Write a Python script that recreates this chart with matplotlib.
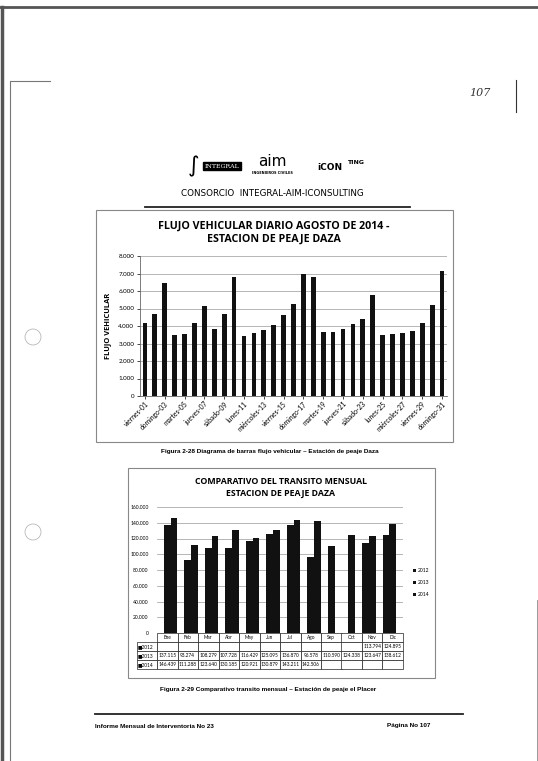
import numpy as np
import matplotlib.pyplot as plt
from matplotlib.ticker import FuncFormatter, MultipleLocator

# daily traffic, August 2014 - Daza toll
days = ["viernes-01", "sábado-02", "domingo-03", "lunes-04", "martes-05", "miércoles-06",
        "jueves-07", "viernes-08", "sábado-09", "domingo-10", "lunes-11", "martes-12",
        "miércoles-13", "jueves-14", "viernes-15", "sábado-16", "domingo-17", "lunes-18",
        "martes-19", "miércoles-20", "jueves-21", "viernes-22", "sábado-23", "domingo-24",
        "lunes-25", "martes-26", "miércoles-27", "jueves-28", "viernes-29", "sábado-30",
        "domingo-31"]
daily = [4150, 4700, 6480, 3500, 3520, 4150, 5150, 3820, 4700, 6780, 3450, 3620,
         3750, 4080, 4620, 5260, 6950, 6800, 3680, 3680, 3840, 4100, 4400, 5750,
         3480, 3520, 3600, 3720, 4180, 5200, 7150]

# monthly traffic comparison
months = ["Ene", "Feb", "Mar", "Abr", "May", "Jun", "Jul", "Ago", "Sep", "Oct", "Nov", "Dic"]
years = ["2012", "2013", "2014"]
t2012 = [None] * 10 + [113794, 124895]
t2013 = [137115, 93274, 108279, 107728, 116429, 125095, 136870, 96578, 110590, 124338, 123647, 138612]
t2014 = [146439, 111288, 123640, 130185, 120921, 130879, 143211, 142506, None, None, None, None]

W, H = 538, 761
fig = plt.figure(figsize=(W / 100, H / 100), dpi=100)
fig.patch.set_facecolor("white")
FAM = ["Lato", "DejaVu Sans"]
BOLD = ["Open Sans", "DejaVu Sans"]


def px_axes(x0, y0, x1, y1):
    return fig.add_axes([x0 / W, 1 - y1 / H, (x1 - x0) / W, (y1 - y0) / H])


def miles(v, pos=None):
    return f"{int(v):,}".replace(",", ".")


# page (scan) decorations
page = fig.add_axes([0, 0, 1, 1], zorder=-5)
page.set_xlim(0, W)
page.set_ylim(H, 0)
page.axis("off")
page.plot([0, W], [7, 7], color="#555555", lw=2)
page.plot([1.5, 1.5], [7, H], color="#555555", lw=2.5)
page.plot([10, 10, 50], [H, 81, 81], color="#777777", lw=0.8)
page.plot([516, 516], [80, 112], color="#333333", lw=0.8)
page.plot([537, 537], [600, H], color="#888888", lw=0.6)
for cy in [337, 532]:
    page.add_patch(plt.Circle((33, cy), 8, fill=False, color="#aaaaaa", lw=0.5))
page.text(480, 93, "107", fontsize=8, style="italic", family="DejaVu Serif",
          ha="center", va="center", color="#333333")

# header logos (text approximation)
page.text(194, 166, "∫", fontsize=16, ha="center", va="center", color="black")
page.text(222, 166, "INTEGRAL", fontsize=4.5, color="white", ha="center", va="center",
          family="DejaVu Serif", bbox=dict(boxstyle="square,pad=0.25", fc="black", ec="black"))
page.text(272, 162, "aim", fontsize=11, ha="center", va="center", color="black")
page.text(272, 173, "INGENIEROS CIVILES", fontsize=2.5, ha="center", va="center",
          fontweight="bold")
page.text(330, 167, "iCON", fontsize=6.5, fontweight="bold", ha="center", va="center")
page.text(356, 163, "TING", fontsize=4.5, fontweight="bold", ha="center", va="center")
page.text(272, 194, "CONSORCIO  INTEGRAL-AIM-ICONSULTING", fontsize=6.3,
          ha="center", va="center")
page.plot([145, 410], [207, 207], color="#222222", lw=1.3)

# chart 1 frame
page.add_patch(plt.Rectangle((96, 210), 357, 232, fill=False, ec="#888888", lw=0.8))
page.text(274, 226, "FLUJO VEHICULAR DIARIO AGOSTO DE 2014 -", fontsize=7.7,
          fontweight="bold", family=BOLD, ha="center", va="center")
page.text(274, 239, "ESTACION DE PEAJE DAZA", fontsize=7.7,
          fontweight="bold", family=BOLD, ha="center", va="center")
page.text(270, 451, "Figura 2-28 Diagrama de barras flujo vehicular – Estación de peaje Daza",
          fontsize=4.6, fontweight="bold", family="Liberation Sans", ha="center", va="center")

# chart 2 frame
page.add_patch(plt.Rectangle((128, 468), 307, 210, fill=False, ec="#888888", lw=0.8))
page.text(281, 481, "COMPARATIVO DEL TRANSITO MENSUAL", fontsize=6.3,
          fontweight="bold", family=BOLD, ha="center", va="center")
page.text(281, 493, "ESTACION DE PEAJE DAZA", fontsize=6.3,
          fontweight="bold", family=BOLD, ha="center", va="center")
page.text(268, 689, "Figura 2-29 Comparativo transito mensual – Estación de peaje el Placer",
          fontsize=4.6, fontweight="bold", family="Liberation Sans", ha="center", va="center")

# footer
page.plot([95, 463], [714, 714], color="#222222", lw=1.3)
page.text(95, 726, "Informe Mensual de Interventoria No 23", fontsize=4.6,
          fontweight="bold", family="Liberation Sans", ha="left", va="center")
page.text(430, 726, "Página No 107", fontsize=4.6,
          fontweight="bold", family="Liberation Sans", ha="right", va="center")

# ---- chart 1: daily bars ----
ax1 = px_axes(140, 256, 447, 396)
x1 = np.arange(len(days))
ax1.bar(x1, daily, width=0.48, color="#111111", zorder=3)
ax1.set_xlim(-0.5, len(days) - 0.5)
ax1.set_ylim(0, 8000)
ax1.yaxis.set_major_locator(MultipleLocator(1000))
ax1.yaxis.set_major_formatter(FuncFormatter(miles))
ax1.grid(axis="y", color="#999999", lw=0.5, zorder=0)
ax1.set_xticks(x1[::2])
ax1.set_xticklabels(days[::2], rotation=45, ha="right", rotation_mode="anchor",
                    fontsize=4.9, family=FAM)
ax1.tick_params(axis="x", length=2, width=0.5, pad=1)
ax1.tick_params(axis="y", labelsize=4.5, length=2, width=0.5, pad=2)
for lab in ax1.get_yticklabels():
    lab.set_family(FAM)
for s in ["top", "right"]:
    ax1.spines[s].set_visible(False)
for s in ["left", "bottom"]:
    ax1.spines[s].set_color("#666666")
    ax1.spines[s].set_linewidth(0.6)
ax1.set_ylabel("FLUJO VEHICULAR", fontsize=5.4, fontweight="bold", family=BOLD,
               labelpad=5)

# ---- chart 2: monthly comparison ----
ax2 = px_axes(157, 507, 403, 633)
x2 = np.arange(len(months))
bw = 0.33
series = [t2012, t2013, t2014]
for i, vals in enumerate(series):
    xs = [x + (i - 1) * bw for x, v in zip(x2, vals) if v is not None]
    hs = [v for v in vals if v is not None]
    ax2.bar(xs, hs, width=bw, color="#111111", zorder=3, label=years[i])
ax2.set_xlim(-0.5, len(months) - 0.5)
ax2.set_ylim(0, 160000)
ax2.yaxis.set_major_locator(MultipleLocator(20000))
ax2.yaxis.set_major_formatter(FuncFormatter(miles))
ax2.grid(axis="y", color="#999999", lw=0.5, zorder=0)
ax2.set_xticks([])
ax2.tick_params(axis="y", labelsize=3.6, length=0, pad=6)
for lab in ax2.get_yticklabels():
    lab.set_family(FAM)
for s in ["top", "right", "left", "bottom"]:
    ax2.spines[s].set_visible(False)

cells = []
for vals in series:
    cells.append([miles(v) if v is not None else "" for v in vals])
rows = ["■" + y for y in years]
lab_w = 20 / 246
tab = ax2.table(cellText=[[r] + c for r, c in zip(rows, cells)],
                colLabels=[""] + months,
                colWidths=[lab_w] + [1 / 12] * 12,
                cellLoc="center",
                bbox=[-lab_w, -36 / 126, 1 + lab_w, 36 / 126])
tab.auto_set_font_size(False)
tab.set_fontsize(3.4)
for (r, c), cell in tab.get_celld().items():
    cell.set_linewidth(0.5)
    cell.set_edgecolor("#222222")
    cell.get_text().set_family(FAM)
    if c == 0:
        cell.get_text().set_ha("left")
        cell._loc = "left"
        cell.PAD = 0.05
tab[0, 0].visible_edges = ""

leg = ax2.legend(loc="center left", bbox_to_anchor=(1.03, 0.4), frameon=False,
                 fontsize=3.6, handlelength=0.6, handleheight=0.6, handletextpad=0.3,
                 labelspacing=1.4, borderpad=0)
for t in leg.get_texts():
    t.set_family(FAM)

fig.savefig("out.png", dpi=100, facecolor="white")
